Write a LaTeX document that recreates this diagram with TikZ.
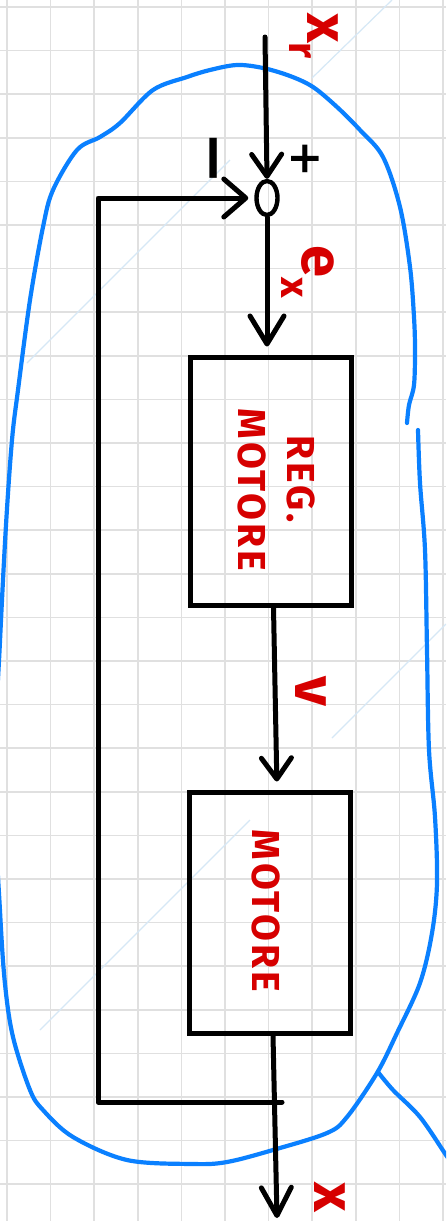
\documentclass[tikz,border=0pt]{standalone}
\usepackage{fontspec}
\setmainfont{Fira Sans}
\newfontfamily\hand[LetterSpace=8.0]{Fira Sans}
\newfontfamily\sym{DejaVu Sans}
\usetikzlibrary{shapes.geometric,arrows.meta,calc}
\definecolor{inkred}{RGB}{214,0,0}
\definecolor{inkblue}{RGB}{10,128,255}
\definecolor{gridgray}{RGB}{224,224,224}
\definecolor{wmblue}{RGB}{214,232,246}
\begin{document}
\begin{tikzpicture}[x=0.5pt,y=-0.5pt,
  ink/.style={line width=2.5pt, line cap=round, line join=round},
  gridline/.style={draw=gridgray, line width=0.75pt},
  wmline/.style={draw=wmblue, line width=0.6pt},
  outline/.style={draw=inkblue, line width=2.1pt, line cap=round, line join=round},
  blockbox/.style={draw, line width=2.5pt, inner sep=0pt},
  sumnode/.style={ellipse, draw, line width=2.2pt, minimum width=10.5pt, minimum height=17pt, inner sep=0pt},
  lbl/.style={text=inkred, font=\bfseries\fontsize{29}{29}\selectfont, rotate=-90, inner sep=0pt},
  boxtext/.style={text=inkred, font=\hand\bfseries\fontsize{19.5}{19.5}\selectfont, rotate=-90, inner sep=0pt},
  sgn/.style={font=\sym\bfseries\fontsize{22}{22}\selectfont, rotate=-90, inner sep=0pt},
  bigsgn/.style={font=\sym\bfseries\fontsize{32}{32}\selectfont, rotate=-90, inner sep=0pt},
  barbA/.style={-{Straight Barb[length=11pt,width=15pt,round]}},
  barbB/.style={-{Straight Barb[length=14pt,width=17pt,round]}},
  barbC/.style={-{Straight Barb[length=10.5pt,width=15pt,round]}},
  barbD/.style={-{Straight Barb[length=14pt,width=15pt,round]}},
  barbE/.style={-{Straight Barb[length=11pt,width=19pt,round]}},
]
\useasboundingbox (0,0) rectangle (446,1221);
\fill[white] (0,0) rectangle (446,1221);
\begin{scope}
  \clip (0,0) rectangle (446,1221);
  \foreach \k in {0,...,10} \draw[gridline] ({7+43.6*\k},0) -- ({7+43.6*\k},1221);
  \foreach \k in {0,...,27} \draw[gridline] (0,{7+43.6*\k}) -- (446,{7+43.6*\k});
  \draw[wmline] (392,0) -- (312,78);
  \draw[wmline] (230,160) -- (27,363);
  \draw[wmline] (446,624) -- (332,738);
  \draw[wmline] (250,820) -- (40,1030);
  \draw[outline] plot[smooth, tension=0.55] coordinates {
    (407,423) (409,405) (414,385) (415,350) (414,317) (410,267) (400,207)
    (383,157) (360,130) (337,107) (313,87) (290,76) (263,68) (237,65)
    (210,70) (187,77) (153,90) (120,123) (100,137) (77,150) (53,190)
    (43,227) (30,300) (18,390) (12,440) (6,525) (0,641) (-6,780) (0,911)
    (5,984) (13,1037) (30,1090) (43,1110) (73,1137) (127,1160) (193,1164)
    (227,1162) (273,1150) (327,1133) (347,1117) (377,1073) (397,1033)
    (420,983) (432,933) (437,883) (435,817) (429,750) (427,650) (425,550)
    (420,483) (418,430)};
  \draw[outline] plot[smooth, tension=0.55] coordinates {
    (378,1072) (393,1090) (420,1117) (446,1155) (455,1168)};
\end{scope}

% nodes
\node[sumnode] (sum) at (267,198) {};
\node[blockbox, minimum width=80.5pt, minimum height=124pt] (reg) at (270.5,481) {};
\node[boxtext] (regA) at (301,479) {REG.};
\node[boxtext] (regB) at (252,490) {MOTORE};
\node[blockbox, minimum width=80.5pt, minimum height=120.5pt] (mot) at (269.5,912.5) {};
\node[boxtext] (motA) at (266,911) {MOTORE};

\coordinate (xin) at (265,37);
\coordinate (xout) at (277,1218);
\coordinate (tap) at (282,1102);
\coordinate (fbBL) at (98,1102);
\coordinate (fbTL) at (98,198);

% connectors
\draw[ink, barbA] (xin) -- (sum.north);
\draw[ink, barbB, shorten >=4pt] (sum.south) -- (sum.south |- reg.north);
\draw[ink, barbC, shorten >=4pt] ([xshift=1.5pt]reg.south) -- ([xshift=3.75pt]mot.north);
\draw[ink, barbD] ([xshift=1.75pt]mot.south) -- (xout);
\draw[ink, barbE, shorten >=3pt] (tap) -- (fbBL) -- (fbTL) -- (sum.west);

% labels
\node[lbl] (xr) at (314,36) {x\raisebox{-0.3em}{\fontsize{20}{20}\selectfont r}};
\node[lbl] (ex) at (308,272) {e\raisebox{-0.35em}{\fontsize{20}{20}\selectfont x}};
\node[lbl] (vlbl) at (311,691) {v};
\node[lbl] (xl) at (330,1197) {x};
\node[sgn] (plus) at (305,159) {+};
\node[bigsgn] (minus) at (205,158) {−};
\end{tikzpicture}
\end{document}
